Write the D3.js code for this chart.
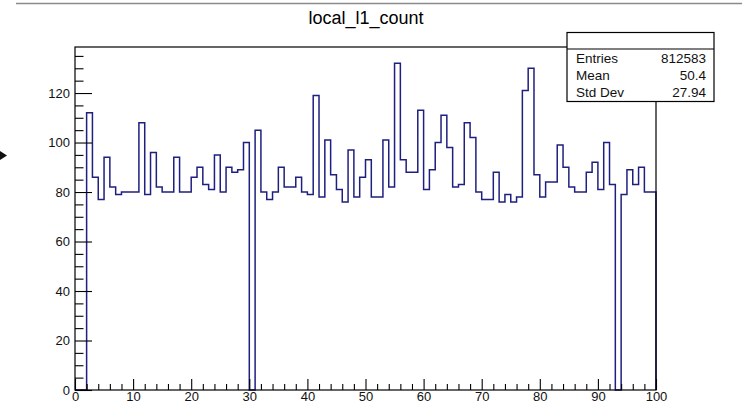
<!DOCTYPE html>
<html>
<head>
<meta charset="utf-8">
<script src="https://cdn.jsdelivr.net/npm/d3@7"></script>
<style>
  html, body { margin: 0; padding: 0; background: #fff; }
  svg { display: block; font-family: "Liberation Sans", Arial, Helvetica, sans-serif; }
</style>
</head>
<body>
<svg id="chart" width="742" height="407"></svg>
<script>
// ---- data ----
const title = "local_l1_count";
const binLow = 0, binHigh = 100;
const binCounts = [
  0, 0, 112, 86, 77, 94, 82, 79, 80, 80,
  80, 108, 79, 96, 82, 80, 80, 94, 80, 80,
  86, 90, 83, 81, 95, 80, 90, 88, 89, 100,
  0, 105, 80, 77, 80, 90, 82, 82, 86, 80,
  79, 119, 78, 101, 87, 81, 76, 97, 78, 86,
  93, 78, 78, 101, 82, 132, 93, 88, 88, 113,
  81, 89, 100, 111, 98, 82, 83, 108, 102, 80,
  77, 77, 88, 76, 79, 76, 78, 121, 130, 87,
  78, 84, 84, 99, 90, 82, 80, 80, 88, 92,
  81, 100, 83, 0, 79, 89, 83, 90, 80, 80
];
const statLabels = ["Entries", "Mean", "Std Dev"];
const statValues = ["812583", "50.4", "27.94"];
const xMajorTicks = [0, 10, 20, 30, 40, 50, 60, 70, 80, 90, 100];
const yMajorTicks = [0, 20, 40, 60, 80, 100, 120];

// ---- layout ----
const svg = d3.select("#chart");
const frame = { left: 75, right: 656, top: 47, bottom: 390 };
const yMax = d3.max(binCounts) * 1.05;

const x = d3.scaleLinear().domain([binLow, binHigh]).range([frame.left, frame.right]);
const y = d3.scaleLinear().domain([0, yMax]).range([frame.bottom, frame.top]);

// top grey line (screenshot edge)
svg.append("line").attr("x1", 16).attr("x2", 742).attr("y1", 3.5).attr("y2", 3.5)
  .attr("stroke", "#8a8a8a").attr("stroke-width", 1.5);

// small arrow marker at left
svg.append("path").attr("d", "M0,151 L7,155.5 L0,160 Z").attr("fill", "#111");

// title
svg.append("text").attr("x", 366).attr("y", 24).attr("text-anchor", "middle")
  .attr("font-size", 18).attr("fill", "#000").text(title);

// histogram step path
const binW = (binHigh - binLow) / binCounts.length;
const pts = [];
pts.push([x(binLow), y(0)]);
binCounts.forEach((c, i) => {
  pts.push([x(binLow + i * binW), y(c)]);
  pts.push([x(binLow + (i + 1) * binW), y(c)]);
});
pts.push([x(binHigh), y(0)]);
svg.append("path")
  .attr("d", d3.line()(pts))
  .attr("fill", "none")
  .attr("stroke", "#1f1f80")
  .attr("stroke-width", 1.5);

// frame
svg.append("rect").attr("x", frame.left).attr("y", frame.top)
  .attr("width", frame.right - frame.left).attr("height", frame.bottom - frame.top)
  .attr("fill", "none").attr("stroke", "#000").attr("stroke-width", 1.2);

// axes
const axisStyle = g => {
  g.select(".domain").remove();
  g.selectAll("line").attr("stroke", "#000").attr("stroke-width", 1.1);
  g.selectAll("text").attr("font-size", 13).attr("fill", "#111")
    .attr("font-family", "Liberation Sans, Arial, sans-serif");
};

const yMinor = d3.range(0, yMax, 5).filter(v => v % 20 !== 0);
svg.append("g").attr("transform", `translate(${frame.left},0)`)
  .call(d3.axisLeft(y).tickValues(yMinor).tickSize(-8.5).tickFormat(""))
  .call(axisStyle);
svg.append("g").attr("transform", `translate(${frame.left},0)`)
  .call(d3.axisLeft(y).tickValues(yMajorTicks).tickSize(-17).tickPadding(5).tickFormat(d3.format("d")))
  .call(axisStyle);

const xMinor = d3.range(0, 101, 2).filter(v => v % 10 !== 0);
svg.append("g").attr("transform", `translate(0,${frame.bottom})`)
  .call(d3.axisBottom(x).tickValues(xMinor).tickSize(-6).tickFormat(""))
  .call(axisStyle);
svg.append("g").attr("transform", `translate(0,${frame.bottom})`)
  .call(d3.axisBottom(x).tickValues(xMajorTicks).tickSize(-11).tickPadding(2).tickFormat(d3.format("d")))
  .call(axisStyle);

// stats box
const box = { x: 567, y: 32.5, w: 147, h: 69, header: 16.5 };
svg.append("rect").attr("x", box.x).attr("y", box.y).attr("width", box.w).attr("height", box.h)
  .attr("fill", "#fff").attr("stroke", "#000").attr("stroke-width", 1.2);
svg.append("line").attr("x1", box.x).attr("x2", box.x + box.w)
  .attr("y1", box.y + box.header).attr("y2", box.y + box.header)
  .attr("stroke", "#000").attr("stroke-width", 1.2);
statLabels.forEach((lab, i) => {
  const yy = 63 + i * 17;
  svg.append("text").attr("x", 576).attr("y", yy).attr("font-size", 13.5).attr("fill", "#111").text(lab);
  svg.append("text").attr("x", 706).attr("y", yy).attr("text-anchor", "end")
    .attr("font-size", 13.5).attr("fill", "#111").text(statValues[i]);
});
</script>
</body>
</html>
